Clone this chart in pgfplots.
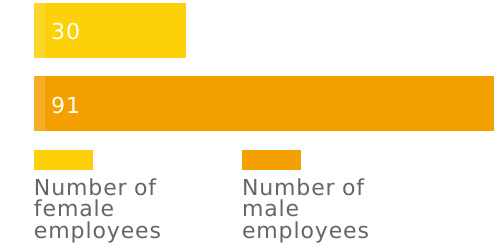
\documentclass[border=0pt]{standalone}
\usepackage{pgfplots}
\pgfplotsset{compat=1.18}
\usepackage{fontspec}
\setmainfont{DejaVu Sans}[LetterSpace=4]
\definecolor{fem}{HTML}{FCD107}
\definecolor{mal}{HTML}{F4A100}
\definecolor{txt}{HTML}{666666}
\begin{document}
\begin{tikzpicture}
\useasboundingbox (0,0) rectangle (502pt,-246pt);
\begin{axis}[
  at={(34pt,-131pt)}, anchor=south west,
  scale only axis, width=460pt, height=131pt,
  xmin=0, xmax=91, ymin=-0.3767, ymax=1.4178,
  axis lines=none, xtick=\empty, ytick=\empty,
  xbar, bar width=55pt, bar shift=0pt,
  clip=false,
  legend style={at={(0,0)}, anchor=north west, yshift=-19pt,
    draw=none, fill=none, inner sep=0pt, outer sep=0pt,
    column sep=0pt, row sep=0pt,
    nodes={inner sep=0pt, outer sep=0pt, text width=208pt, align=left,
      font=\fontsize{22}{21.5}\selectfont, text=txt}},
  legend columns=2,
  legend image code/.code={},
  lightstrip/.style={path picture={%
    \pgfsetfillcolor{white}\pgfsetfillopacity{0.15}%
    \pgfpathrectangle{\pgfpointanchor{path picture bounding box}{south west}}{\pgfpoint{11pt}{55pt}}%
    \pgfusepathqfill}},
]
\addplot[fill=fem, draw=none, lightstrip] coordinates {(30,1)};
\addlegendentry{\textcolor{fem}{\rule{59pt}{20pt}}\\[3.5pt]Number of\\female\\employees}
\addplot[fill=mal, draw=none, lightstrip] coordinates {(91,0)};
\addlegendentry{\textcolor{mal}{\rule{59pt}{20pt}}\\[3.5pt]Number of\\male\\employees}
\addplot[draw=none, mark=none, xbar=0pt, forget plot,
  nodes near coords, point meta=explicit symbolic,
  every node near coord/.style={anchor=base west, xshift=17pt, yshift=-9.5pt, text=white, font=\fontsize{22}{22}\selectfont, inner sep=0pt}]
  table[meta=v] {
  x y v
  0 1 30
  0 0 91
  };
\end{axis}
\end{tikzpicture}
\end{document}
